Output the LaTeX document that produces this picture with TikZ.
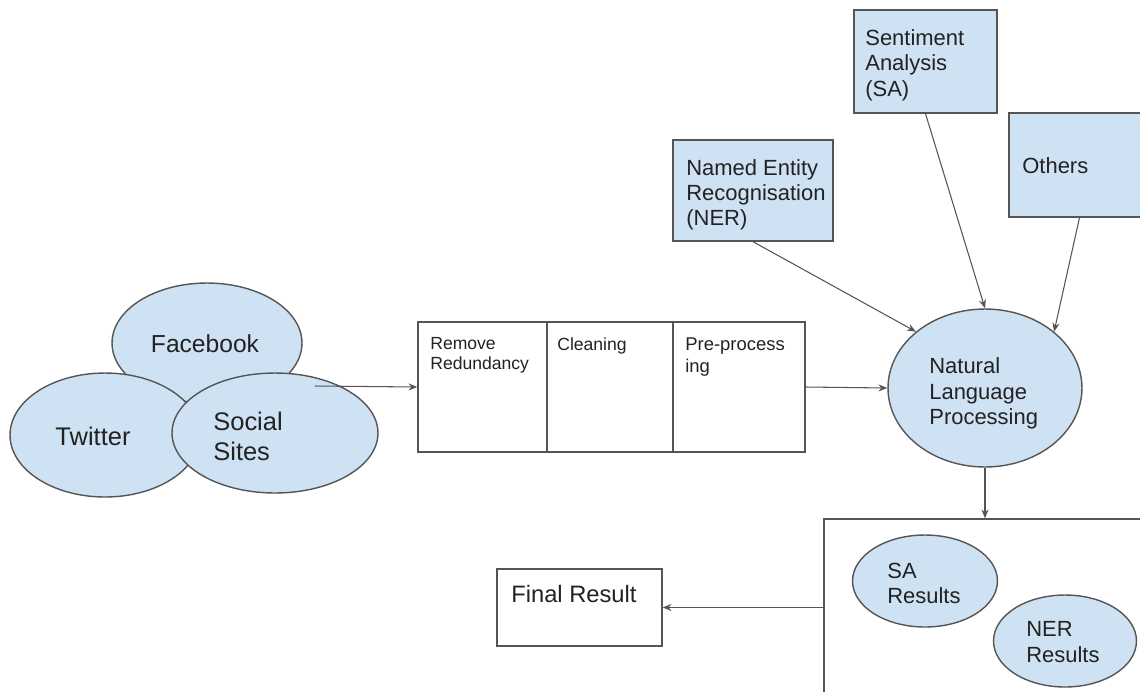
\documentclass[tikz,border=0pt]{standalone}
\usepackage{fontspec}
\setmainfont{Liberation Sans}
\usetikzlibrary{shapes.geometric,arrows.meta}
\definecolor{nodeblue}{HTML}{CFE2F3}
\definecolor{linegray}{HTML}{555555}
\definecolor{textgray}{HTML}{222222}
\tikzset{
	blob/.style={ellipse, draw=linegray, fill=nodeblue, line width=0.8pt, inner sep=0pt},
	bluebox/.style={rectangle, draw=linegray, fill=nodeblue, line width=0.8pt, inner sep=0pt},
	plainbox/.style={rectangle, draw=linegray, fill=white, line width=0.8pt, inner sep=0pt},
	txt/.style={inner sep=0pt, text=textgray, align=left},
	arr/.style={draw=linegray, line width=0.6pt, -{Stealth[length=5pt,width=4pt]}}
}
\newcommand{\fs}[2]{\fontsize{#1}{#2}\selectfont}
\begin{document}
\begin{tikzpicture}[x=0.02cm, y=-0.02cm]
		\useasboundingbox (0, 0) rectangle (1140, 691);
		\clip (0, 0) rectangle (1140, 691);
		\fill[white] (0, 0) rectangle (1140, 691);
		\node[blob, minimum width=3.8cm, minimum height=2.4cm] (fb) at (207, 343) {};
		\node[blob, minimum width=3.8cm, minimum height=2.48cm] (tw) at (105, 435) {};
		\node[blob, minimum width=4.12cm, minimum height=2.4cm] (ss) at (275, 433) {};
		\node[txt, anchor=base, font=\fs{14}{17}] (fbtext) at (205, 352) {Facebook};
		\node[txt, anchor=base, font=\fs{14.5}{17}] (twtext) at (93, 445) {Twitter};
		\node[txt, anchor=north west, font=\fs{14.5}{17}] (sstext) at (213, 412) {Social\\Sites};
		\coordinate (ssout) at (315, 386);
		\node[plainbox, minimum width=2.58cm, minimum height=2.6cm] (rr) at (482.5, 387) {};
		\node[plainbox, minimum width=2.52cm, minimum height=2.6cm] (cl) at (610, 387) {};
		\node[plainbox, minimum width=2.64cm, minimum height=2.6cm] (pp) at (739, 387) {};
		\node[txt, anchor=north west, font=\fs{10}{11.5}] (rrtext) at (430, 337) {Remove\\Redundancy};
		\node[txt, anchor=north west, font=\fs{10}{11.5}] (cltext) at (557, 337) {Cleaning};
		\node[txt, anchor=north west, font=\fs{10.5}{12.5}] (pptext) at (685, 337) {Pre-process\\ing};
		\node[bluebox, minimum width=3.2cm, minimum height=2.02cm] (ner) at (753, 190.5) {};
		\node[bluebox, minimum width=2.86cm, minimum height=2.06cm] (sa) at (925.5, 61.5) {};
		\node[bluebox, minimum width=2.82cm, minimum height=2.08cm] (oth) at (1079.5, 165) {};
		\node[txt, anchor=north west, font=\fs{12.5}{14.2}] (nertext) at (686, 159) {Named Entity\\Recognisation\\(NER)};
		\node[txt, anchor=north west, font=\fs{12.5}{14.6}] (satext) at (865, 29) {Sentiment\\Analysis\\(SA)};
		\node[txt, anchor=base west, font=\fs{12.5}{14.2}] (othtext) at (1022, 173) {Others};
		\node[blob, minimum width=3.88cm, minimum height=3.16cm] (nlp) at (985, 388) {};
		\node[txt, anchor=north west, font=\fs{12.5}{14.7}] (nlptext) at (929, 357) {Natural\\Language\\Processing};
		\node[plainbox, minimum width=6.72cm, minimum height=3.82cm] (res) at (992, 614.5) {};
		\node[blob, minimum width=2.9cm, minimum height=1.84cm] (sares) at (925, 581) {};
		\node[blob, minimum width=2.86cm, minimum height=1.84cm] (nerres) at (1065, 641) {};
		\node[txt, anchor=north west, font=\fs{12.5}{14.2}] (sarestext) at (887, 563) {SA\\Results};
		\node[txt, anchor=north west, font=\fs{12.5}{15}] (nerrestext) at (1026, 621) {NER\\Results};
		\node[plainbox, minimum width=3.3cm, minimum height=1.54cm] (final) at (579.5, 607.5) {};
		\node[txt, anchor=base west, font=\fs{13.5}{16}] (finaltext) at (511, 602) {Final Result};
		\draw[arr] (ssout) -- (rr.west);
		\draw[arr] (pp.east) -- (nlp.west);
		\draw[arr] (ner.south) -- (nlp.north west);
		\draw[arr] (sa.south) -- (nlp.north);
		\draw[arr] (oth.south) -- (nlp.north east);
		\draw[arr] (nlp.south) -- (nlp.south |- res.north);
		\draw[arr] (res.west |- final.east) -- (final.east);
	\end{tikzpicture}
\end{document}
